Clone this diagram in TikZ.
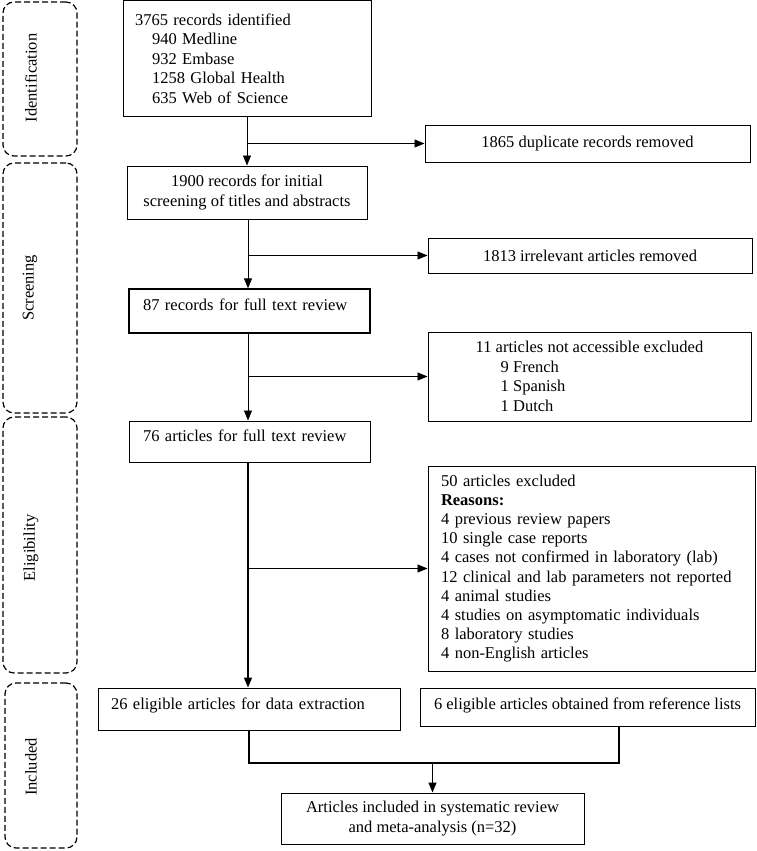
\documentclass[tikz,border=0pt]{standalone}
\usepackage{fontspec}
\setmainfont{Liberation Serif}
\usetikzlibrary{arrows.meta}
\begin{document}
\begin{tikzpicture}[x=1pt,y=-1pt,
  txt/.style={font=\fontsize{16.5}{19.5}\selectfont},
  box/.style={draw,line width=1pt,inner ysep=0pt,inner xsep=0pt,txt},
  side/.style={draw,line width=1.2pt,dash pattern=on 6pt off 3pt,rounded corners=11pt},
  lab/.style={rotate=90,txt},
  conn/.style={line width=0.8pt},
  arr/.style={conn,-{Triangle[length=10pt,width=8pt]}}]
\useasboundingbox (0,0) rectangle (756,851);

% side phase boxes
\node[side,minimum width=74pt,minimum height=154pt] (sid) at (40,79) {};
\node[side,minimum width=74pt,minimum height=250pt] (sscr) at (40,288) {};
\node[side,minimum width=74pt,minimum height=256pt] (selig) at (40,545) {};
\node[side,minimum width=72pt,minimum height=165pt] (sincl) at (41,765.5) {};
\node[lab] (lid) at (31,78) {Identification};
\node[lab] (lscr) at (30,288) {Screening};
\node[lab] (lelig) at (31,548) {Eligibility};
\node[lab] (lincl) at (31,767) {Included};

% main boxes
\node[box,minimum height=115pt,inner xsep=12pt,text width=224pt,align=left] (b1) at (247,58.5)
  {3765 records identified\\
   \hspace*{17pt}940 Medline\\
   \hspace*{17pt}932 Embase\\
   \hspace*{17pt}1258 Global Health\\
   \hspace*{17pt}635 Web of Science};
\node[box,minimum width=325pt,minimum height=37pt] (dup) at (587.5,143.5) {1865 duplicate records removed};
\node[box,minimum width=240pt,minimum height=53pt,align=center] (b2) at (247,192.5)
  {1900 records for initial\\screening of titles and abstracts};
\node[box,minimum width=324pt,minimum height=35pt] (irr) at (590,255.5) {1813 irrelevant articles removed};
\node[box,line width=1.3pt,minimum height=44pt,inner xsep=14pt,text width=213pt,align=left,text depth=13.5pt] (b3) at (249.5,311)
  {87 records for full text review};
\node[box,minimum width=323pt,minimum height=89pt,align=left,txt] (acc) at (589.5,376.5)
  {11 articles not accessible excluded\\
   \hspace*{25pt}9 French\\
   \hspace*{25pt}1 Spanish\\
   \hspace*{25pt}1 Dutch};
\node[box,minimum height=41pt,inner xsep=14pt,text width=213pt,align=left,text depth=12.5pt] (b4) at (249.5,441.5)
  {76 articles for full text review};
\node[box,minimum height=205pt,inner xsep=13pt,text width=301pt,align=left,font=\fontsize{16.5}{19.2}\selectfont] (excl) at (591.5,568.5)
  {50 articles excluded\\
   \textbf{Reasons:}\\
   4 previous review papers\\
   10 single case reports\\
   4 cases not confirmed in laboratory (lab)\\
   12 clinical and lab parameters not reported\\
   4 animal studies\\
   4 studies on asymptomatic individuals\\
   8 laboratory studies\\
   4 non-English articles};
\node[box,minimum height=42pt,inner xsep=13pt,text width=276pt,align=left,text depth=11.5pt] (b5) at (249,709)
  {26 eligible articles for data extraction};
\node[box,minimum width=335pt,minimum height=38pt,text depth=6pt] (b6) at (587.5,707)
  {6 eligible articles obtained from reference lists};
\node[box,minimum width=303pt,minimum height=51pt,align=center] (b7) at (432.5,818.5)
  {Articles included in systematic review\\and meta-analysis (n=32)};

% connectors
\draw[arr] (b1.south) -- (b2.north);
\coordinate (j1) at (b1.south |- dup.west);
\draw[arr] (j1) -- (dup.west);

\draw[arr] ([xshift=1pt]b2.south) -- ([xshift=1pt]b2.south |- b3.north);
\coordinate (j2) at ([xshift=1pt]b2.south |- irr.west);
\draw[arr] (j2) -- (irr.west);

\draw[arr] ([xshift=-1.5pt]b3.south) -- ([xshift=-1.5pt]b3.south |- b4.north);
\coordinate (j3) at ([xshift=-1.5pt]b3.south |- acc.west);
\draw[arr] (j3) -- (acc.west);

\draw[arr,line width=1.6pt] ([xshift=-1.5pt]b4.south) -- ([xshift=-1.5pt]b4.south |- b5.north);
\coordinate (j4) at ([xshift=-1.5pt]b4.south |- excl.west);
\draw[arr] (j4) -- (excl.west);

\coordinate (mid) at ([yshift=29.5pt]b7.north);
\coordinate (b6d) at ([xshift=31.5pt]b6.south);
\draw[line width=1.3pt] (b5.south) |- (mid) -| (b6d);
\draw[arr,line width=1.3pt] (mid) -- (b7.north);
\end{tikzpicture}
\end{document}
